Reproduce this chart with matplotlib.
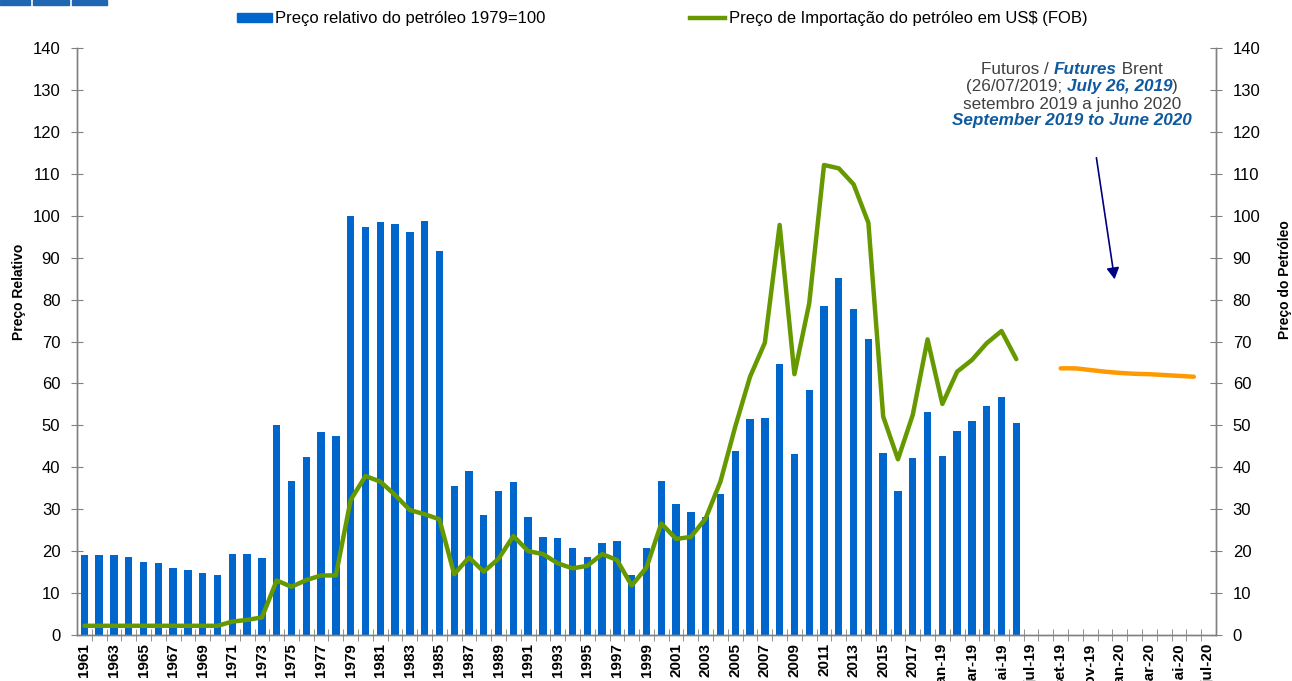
#relative oil price (bars) and oil import price with Brent futures (lines)
import matplotlib as mpl
mpl.use('Agg')
import matplotlib.pyplot as plt
from matplotlib.patches import Rectangle
from matplotlib.lines import Line2D

plt.rcParams['font.family'] = ['Liberation Sans', 'DejaVu Sans']

#categories: annual data up to 2018, then monthly
anos = [str(a) for a in range(1961, 2019)]
meses = ['jan-19', 'fev-19', 'mar-19', 'abr-19', 'mai-19', 'jun-19', 'jul-19',
         'ago-19', 'set-19', 'out-19', 'nov-19', 'dez-19', 'jan-20', 'fev-20',
         'mar-20', 'abr-20', 'mai-20', 'jun-20', 'jul-20']
categorias = anos + meses

#relative price, 1979=100 (1961 .. jun-19)
relativo = [19.1, 19.0, 19.1, 18.6, 17.5, 17.1, 16.0, 15.5, 14.7, 14.2,
            19.3, 19.3, 18.3, 50.1, 36.7, 42.5, 48.3, 47.4, 100.0, 97.4,
            98.6, 98.0, 96.2, 98.8, 91.5, 35.6, 39.0, 28.7, 34.4, 36.4,
            28.1, 23.3, 23.1, 20.8, 18.7, 21.9, 22.3, 14.2, 20.7, 36.8,
            31.2, 29.3, 28.2, 33.6, 44.0, 51.4, 51.7, 64.7, 43.2, 58.4,
            78.5, 85.1, 77.7, 70.7, 43.5, 34.4, 42.3, 53.3,
            42.6, 48.7, 51.0, 54.7, 56.7, 50.6]

#import price in US$ FOB (1961 .. jun-19)
importacao = [2.2, 2.2, 2.2, 2.2, 2.2, 2.2, 2.2, 2.2, 2.2, 2.2,
              3.2, 3.6, 4.2, 13.0, 11.5, 13.1, 14.2, 14.2, 32.2, 37.9,
              36.6, 33.4, 29.8, 28.8, 27.6, 14.5, 18.5, 15.1, 18.2, 23.6,
              20.0, 19.3, 17.1, 15.9, 16.5, 19.3, 17.9, 11.8, 16.1, 26.6,
              22.9, 23.4, 27.8, 36.6, 49.7, 61.6, 69.7, 97.8, 62.2, 79.1,
              112.1, 111.3, 107.5, 98.3, 52.1, 41.9, 52.5, 70.5,
              55.1, 62.8, 65.6, 69.6, 72.5, 65.8]

#Brent futures, set-19 .. jun-20
futuros = [63.6, 63.6, 63.2, 62.8, 62.5, 62.3, 62.2, 62.0, 61.8, 61.6]
inicio_futuros = categorias.index('set-19')

azul = '#0066cc'
verde = '#669900'
laranja = '#ff9900'
cinza = '#808080'

W, H = 1292, 681
fig = plt.figure(figsize=(W/100, H/100), dpi=100)
ax = fig.add_axes([77/W, 1-635/H, (1216-77)/W, (635-48)/H])
ax2 = ax.twinx()

xs = list(range(len(categorias)))
ax.bar(xs[:len(relativo)], relativo, width=0.5, color=azul, zorder=2)
ax2.plot(xs[:len(importacao)], importacao, color=verde, lw=3.2,
         solid_joinstyle='round', solid_capstyle='round', zorder=3)
ax2.plot(xs[inicio_futuros:inicio_futuros+len(futuros)], futuros,
         color=laranja, lw=3.2, solid_capstyle='round', zorder=3)

for a in (ax, ax2):
    a.set_xlim(-0.5, len(categorias)-0.5)
    a.set_ylim(0, 140)
    a.set_yticks(range(0, 141, 10))
    a.spines['top'].set_visible(False)
    for s in a.spines.values():
        s.set_color(cinza)
        s.set_linewidth(1.0)
ax.tick_params(axis='y', direction='inout', length=8, color=cinza,
               labelsize=12, pad=8)
ax2.tick_params(axis='y', direction='inout', length=8, color=cinza,
                labelsize=12, pad=8)
ax2.patch.set_visible(False)

#labels on every second category, tick marks between categories
ax.set_xticks(xs[::2])
ax.set_xticklabels(categorias[::2], rotation=90, fontsize=11,
                   fontweight='bold')
ax.set_xticks([x + 0.5 for x in xs[:-1]], minor=True)
ax.tick_params(axis='x', which='major', length=0, pad=6)
ax.tick_params(axis='x', which='minor', direction='inout', length=8,
               color=cinza)

fig.text(19/W, 1-292/H, 'Preço Relativo', rotation=90, ha='center',
         va='center', fontsize=10, fontweight='bold')
fig.text(1285/W, 1-280/H, 'Preço do Petróleo', rotation=90, ha='center',
         va='center', fontsize=10, fontweight='bold')

#legend across the top
alcas = [Rectangle((0, 0), 1, 1, color=azul),
         Line2D([], [], color=verde, lw=3.2)]
fig.legend(alcas, ['Preço relativo do petróleo 1979=100',
                   'Preço de Importação do petróleo em US$ (FOB)'],
           loc='center', bbox_to_anchor=(662/W, 1-19/H), ncol=2,
           frameon=False, fontsize=12, handlelength=2.1, handleheight=0.5,
           handletextpad=0.2, columnspacing=8.7)

#header blocks in the corner
for x0, x1 in [(0, 30), (33, 69), (72, 107)]:
    fig.patches.append(Rectangle((x0/W, 1-5/H), (x1-x0)/W, 5/H,
                                 transform=fig.transFigure,
                                 color='#1f66b3'))

#futures note, mixed plain and bold italic pieces on each line
texto_cinza = dict(color='#404040', fontsize=12.3)
texto_azul = dict(color='#0f5a9e', fontsize=12.3, fontweight='bold',
                  fontstyle='italic')
linhas = [
    [('Futuros / ', texto_cinza), ('Futures', texto_azul),
     (' Brent', texto_cinza)],
    [('(26/07/2019; ', texto_cinza), ('July 26, 2019', texto_azul),
     (')', texto_cinza)],
    [('setembro 2019 a junho 2020', texto_cinza)],
    [('September 2019 to June 2020', texto_azul)],
]
renderer = fig.canvas.get_renderer()
for k, partes in enumerate(linhas):
    y = 1 - (70 + 17*k)/H
    textos = [fig.text(0, y, s, va='center', ha='left', **estilo)
              for s, estilo in partes]
    larguras = [t.get_window_extent(renderer).width for t in textos]
    x = 1072 - sum(larguras)/2
    for t, w in zip(textos, larguras):
        t.set_x(x/W)
        x += w

fig.add_artist(mpl.patches.FancyArrowPatch(
    (1096/W, 1-155/H), (1115/W, 1-282/H), transform=fig.transFigure,
    arrowstyle='-|>,head_length=4.5,head_width=2.5', color='#000080',
    lw=1.2, mutation_scale=1.5))

fig.savefig('out.png', dpi=100)
